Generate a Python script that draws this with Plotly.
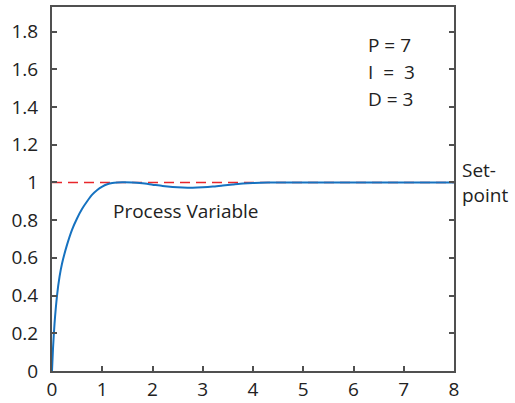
import plotly.graph_objects as go

# process variable
t = [0, 0.02, 0.05, 0.1, 0.15, 0.2, 0.3, 0.4, 0.5, 0.6, 0.7, 0.8, 0.9, 1.0, 1.1, 1.2, 1.3, 1.4,
     1.6, 1.8, 2.0, 2.2, 2.4, 2.6, 2.8, 3.0, 3.2, 3.4, 3.6, 3.8, 4.0, 4.3, 4.6, 5, 6, 7, 8]
pv = [0, 0.12, 0.25, 0.40, 0.50, 0.57, 0.67, 0.75, 0.81, 0.86, 0.90, 0.935, 0.96, 0.978, 0.99,
      0.997, 1.0, 1.001, 1.0, 0.995, 0.988, 0.981, 0.976, 0.973, 0.972, 0.974, 0.978, 0.984,
      0.989, 0.994, 0.997, 0.999, 1.0, 1.0, 1.0, 1.0, 1.0]
sp_t = [0, 8]
sp = [1, 1]

xticks = [0, 1, 2, 3, 4, 5, 6, 7, 8]
yticks = [0, 0.2, 0.4, 0.6, 0.8, 1, 1.2, 1.4, 1.6, 1.8]
ylabels = ["0", "0.2", "0.4", "0.6", "0.8", "1", "1.2", "1.4", "1.6", "1.8"]

font = "Open Sans"
axcol = "#505050"
fs = 19

fig = go.Figure()
fig.add_trace(go.Scatter(x=sp_t, y=sp, mode="lines",
                         line=dict(color="#e8262b", width=1.5, dash="10px,6px")))
fig.add_trace(go.Scatter(x=t, y=pv, mode="lines",
                         line=dict(color="#1672c0", width=2, shape="spline", smoothing=0.6)))

fig.update_layout(
    width=515, height=403,
    margin=dict(l=52, r=61, t=7, b=32),
    plot_bgcolor="white", paper_bgcolor="white",
    showlegend=False,
    font=dict(family=font, size=fs, color="#222"),
)
fig.update_xaxes(range=[0, 8], tickvals=xticks, showgrid=False, zeroline=False,
                 showline=True, linecolor=axcol, linewidth=2, mirror=True,
                 ticks="inside", ticklen=5, tickcolor=axcol, tickwidth=1.5,
                 ticklabelstandoff=0, tickfont=dict(size=fs), automargin=False)
fig.update_yaxes(range=[0, 1.93], tickvals=yticks, ticktext=ylabels, showgrid=False,
                 zeroline=False, showline=True, linecolor=axcol, linewidth=2,
                 mirror="ticks", ticks="inside", ticklen=5, tickcolor=axcol, tickwidth=1.5,
                 ticklabelstandoff=8, tickfont=dict(size=fs), automargin=False)

for txt, yy in [("P = 7", 1.727), ("I  =  3", 1.584), ("D = 3", 1.441)]:
    fig.add_annotation(x=6.24, y=yy, text=txt, showarrow=False, xanchor="left",
                       yanchor="middle", font=dict(size=fs))
fig.add_annotation(x=1.18, y=0.848, text="Process Variable", showarrow=False,
                   xanchor="left", yanchor="middle", font=dict(size=fs))
fig.add_annotation(x=1.0, xref="paper", xshift=6, y=1.0, text="Set-<br>point",
                   showarrow=False, xanchor="left", yanchor="middle", align="left",
                   font=dict(size=fs))

# drop the page's default body margin so the 515x403 figure fills the window
fig.write_html("out.html", config={"displayModeBar": False},
               post_script="document.body.style.margin='0';")
